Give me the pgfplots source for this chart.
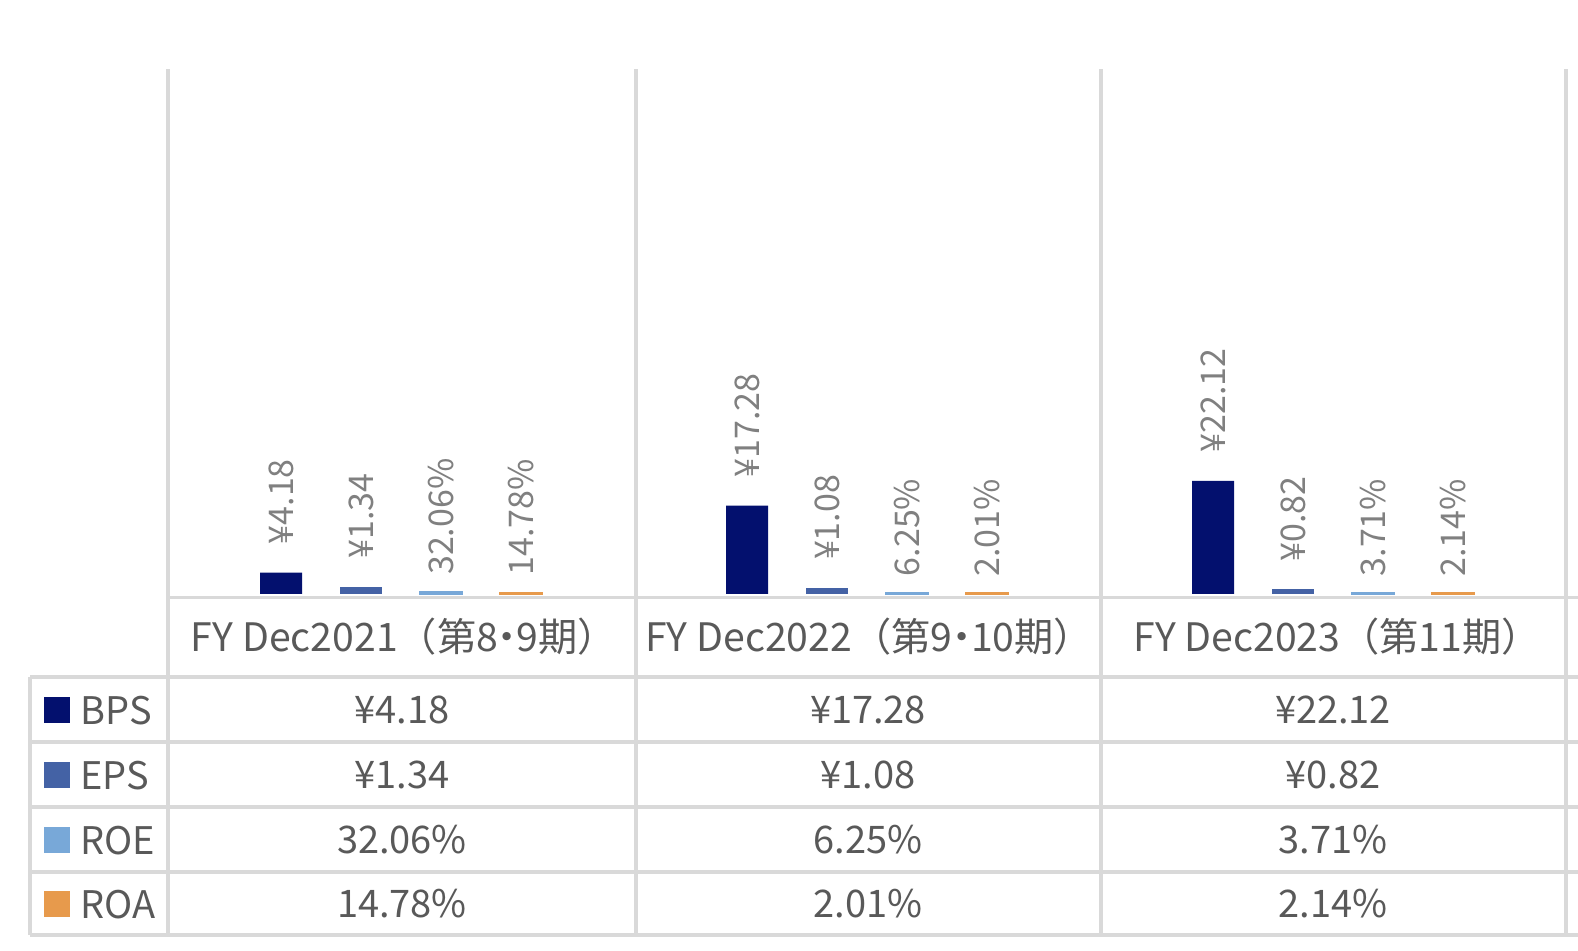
\documentclass[border=0pt]{standalone}
\usepackage{pgfplots}
\pgfplotsset{compat=1.18}
\usepackage{fontspec}
\setmainfont{Noto Sans CJK JP}
\definecolor{bps}{HTML}{03106E}
\definecolor{eps}{HTML}{4462A5}
\definecolor{roe}{HTML}{78A8D8}
\definecolor{roa}{HTML}{E79A4C}
\definecolor{gridc}{HTML}{D9D9D9}
\definecolor{txt}{HTML}{595959}
\definecolor{lab}{HTML}{808080}
\pgfplotsset{
  lbl/.style 2 args={point meta=explicit symbolic, nodes near coords,
    every node near coord/.append style={xshift=#2, anchor=west, rotate=90, inner xsep=#1, inner ysep=0pt,
      font=\fontsize{17}{17}\selectfont, text=lab}},
}
\newcommand{\cellfont}{\fontsize{19}{19}\selectfont}
\newcommand{\catfont}{\fontsize{19.6}{19.6}\selectfont}
\newcommand{\nakaguro}{\kern-0.26em・\kern-0.26em}
\begin{document}
\begin{tikzpicture}
\path[use as bounding box] (0,0) rectangle (789pt,-475pt);
\begin{axis}[
  at={(84pt,-298.5pt)}, anchor=south west,
  scale only axis, width=699pt, height=264pt,
  xmin=-0.5, xmax=2.5, ymin=-0.6, ymax=102.7,
  hide axis, clip=false,
]
\addplot[ybar, bar width=21pt, bar shift=-60pt, fill=bps, draw=none, lbl={14pt}{-60pt}]
  coordinates {(0,4.18) [¥4.18] (1,17.28) [¥17.28] (2,22.12) [¥22.12]};
\addplot[ybar, bar width=20.5pt, bar shift=-20pt, fill=eps, draw=eps, line width=0.5pt, lbl={14pt}{-20pt}]
  coordinates {(0,1.34) [¥1.34] (1,1.08) [¥1.08] (2,0.82) [¥0.82]};
\addplot[ybar, bar width=20.25pt, bar shift=20pt, fill=roe, draw=roe, line width=1.5pt, lbl={8pt}{20pt}]
  coordinates {(0,0.3206) [32.06\%] (1,0.0625) [6.25\%] (2,0.0371) [3.71\%]};
\addplot[ybar, bar width=20.25pt, bar shift=60pt, fill=roa, draw=roa, line width=1.5pt, lbl={8pt}{60pt}]
  coordinates {(0,0.1478) [14.78\%] (1,0.0201) [2.01\%] (2,0.0214) [2.14\%]};
\end{axis}
\begin{scope}[x=0.5pt, y=-0.5pt]
  \begin{scope}[draw=gridc, line width=1.9pt]
    \draw (168,597.5) -- (1578,597.5);
    \foreach \yy in {677,742,807,872,935} { \draw (30,\yy) -- (1578,\yy); }
    \draw (30,677) -- (30,935);
    \foreach \xx in {168,636,1101,1566} { \draw (\xx,69) -- (\xx,935); }
  \end{scope}
  % category labels
  \node[anchor=base, font=\catfont, text=txt, inner sep=0pt] at (404,651) {FY Dec2021（第8\nakaguro 9期）};
  \node[anchor=base, font=\catfont, text=txt, inner sep=0pt] at (869,651) {FY Dec2022（第9\nakaguro 10期）};
  \node[anchor=base, font=\catfont, text=txt, inner sep=0pt] at (1337,651) {FY Dec2023（第11期）};
  % legend keys
  \fill[bps] (44,697) rectangle (70,723);
  \fill[eps] (44,762) rectangle (70,788);
  \fill[roe] (44,827) rectangle (70,853);
  \fill[roa] (44,891) rectangle (70,917);
  \node[anchor=base west, font=\cellfont, text=txt, inner sep=0pt] at (80,724) {BPS};
  \node[anchor=base west, font=\cellfont, text=txt, inner sep=0pt] at (80,789) {EPS};
  \node[anchor=base west, font=\cellfont, text=txt, inner sep=0pt] at (80,854) {ROE};
  \node[anchor=base west, font=\cellfont, text=txt, inner sep=0pt] at (80,918) {ROA};
  % values
  \foreach \cx/\a/\b/\c/\d in {402/¥4.18/¥1.34/32.06\%/14.78\%, 868/¥17.28/¥1.08/6.25\%/2.01\%, 1333/¥22.12/¥0.82/3.71\%/2.14\%} {
    \node[anchor=base, font=\cellfont, text=txt, inner sep=0pt] at (\cx,723) {\a};
    \node[anchor=base, font=\cellfont, text=txt, inner sep=0pt] at (\cx,788) {\b};
    \node[anchor=base, font=\cellfont, text=txt, inner sep=0pt] at (\cx,853) {\c};
    \node[anchor=base, font=\cellfont, text=txt, inner sep=0pt] at (\cx,917) {\d};
  }
\end{scope}
\end{tikzpicture}
\end{document}
